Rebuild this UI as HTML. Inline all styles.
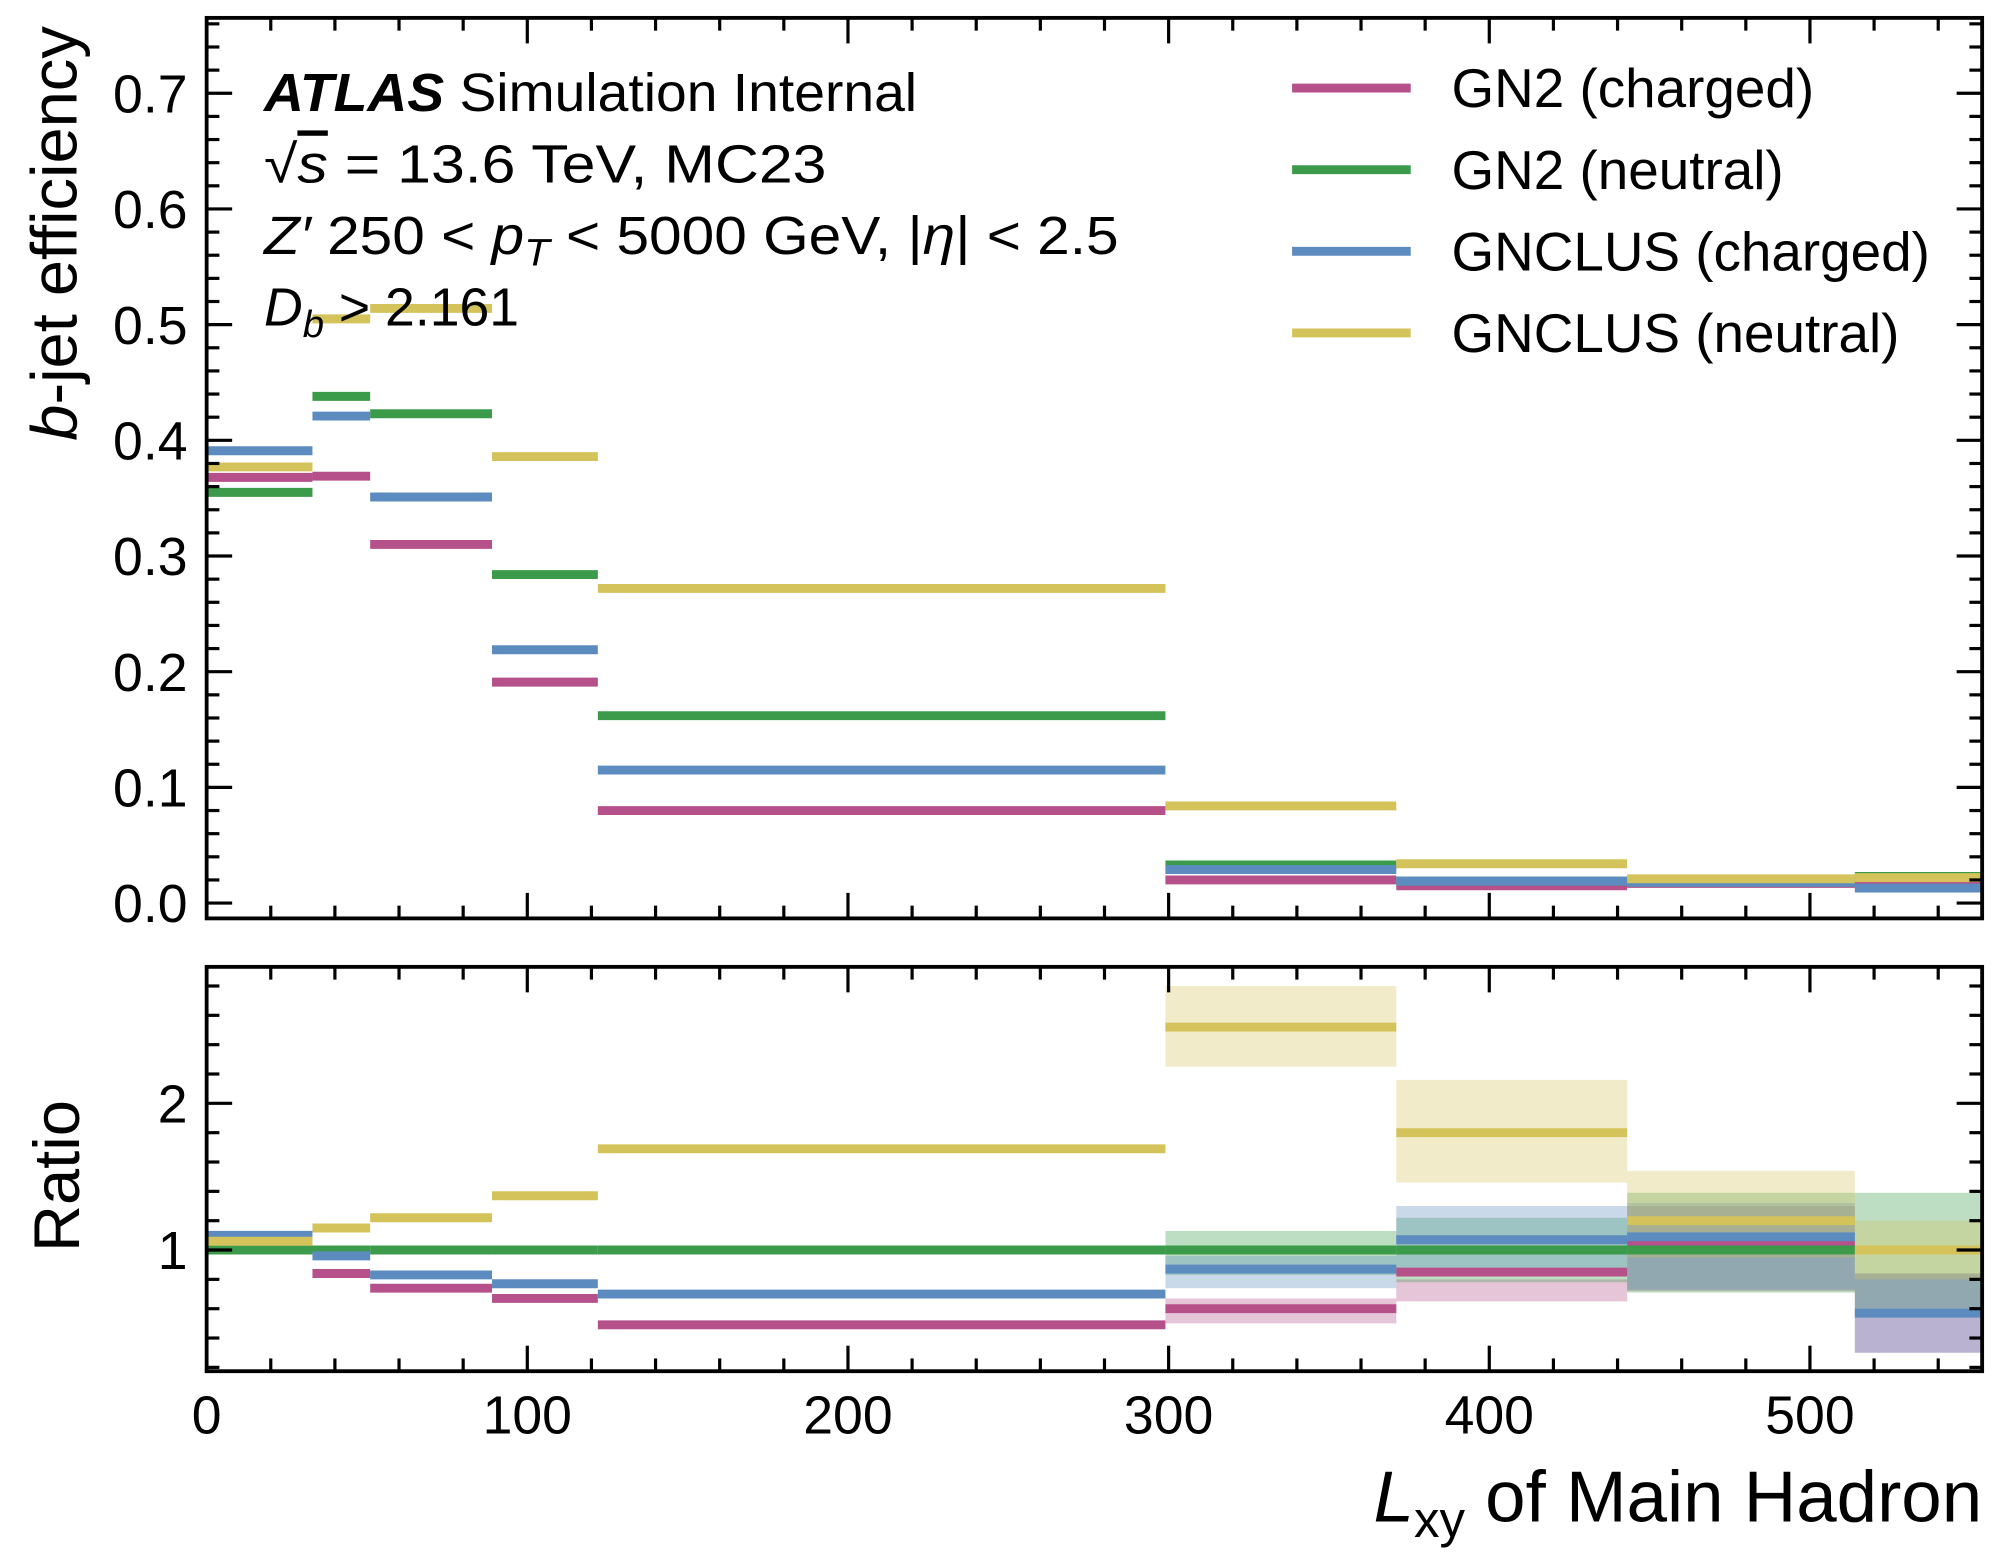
<!DOCTYPE html>
<html><head><meta charset="utf-8"><style>
html,body{margin:0;padding:0;background:#fff;}
svg{display:block;font-family:"Liberation Sans",Arial,sans-serif;}
</style></head><body>
<svg id="chart" width="2000" height="1560" viewBox="0 0 1568 1223" xmlns="http://www.w3.org/2000/svg">
<rect x="0" y="0" width="1568" height="1223" fill="#fff"/>
<g id="marks"></g>
<g id="axes"></g>
<g font-size="42">
<text x="207" y="87" textLength="512" lengthAdjust="spacingAndGlyphs"><tspan font-weight="bold" font-style="italic">ATLAS</tspan> Simulation Internal</text>
<text x="207" y="143" textLength="441" lengthAdjust="spacingAndGlyphs">√<tspan text-decoration="overline" font-style="italic">s</tspan> = 13.6 TeV, MC23</text>
<text x="207" y="199" textLength="670" lengthAdjust="spacingAndGlyphs"><tspan font-style="italic">Z′</tspan> 250 &lt; <tspan font-style="italic">p</tspan><tspan font-style="italic" font-size="30" dy="9">T</tspan><tspan dy="-9"> &lt; 5000 GeV, |</tspan><tspan font-style="italic">η</tspan>| &lt; 2.5</text>
<text x="207" y="255"><tspan font-style="italic">D</tspan><tspan font-style="italic" font-size="30" dy="9">b</tspan><tspan dy="-9"> &gt; 2.161</tspan></text>
</g>
<g id="legend" font-size="43"></g>
<text transform="translate(60,183) rotate(-90)" text-anchor="middle" font-size="51"><tspan font-style="italic">b</tspan>-jet efficiency</text>
<text transform="translate(62,922) rotate(-90)" text-anchor="middle" font-size="51">Ratio</text>
<text x="1554" y="1193" text-anchor="end" font-size="57"><tspan font-style="italic">L</tspan><tspan font-size="40" dy="12">xy</tspan><tspan dy="-12"> of Main Hadron</tspan></text>
</svg>
<script>
const edges = [0, 33, 51, 89, 122, 299, 371, 443, 514, 553.6];
const seriesNames = ["GN2 (charged)", "GN2 (neutral)", "GNCLUS (charged)", "GNCLUS (neutral)"];
const seriesColors = ["#b5508a", "#3b9b4a", "#5b8bbf", "#d4c35a"];
const effGN2Charged = [0.368, 0.369, 0.310, 0.191, 0.080, 0.020, 0.015, 0.017, 0.016];
const effGN2Neutral = [0.355, 0.438, 0.423, 0.284, 0.162, 0.033, 0.019, 0.018, 0.023];
const effGNCLUSCharged = [0.391, 0.421, 0.351, 0.219, 0.115, 0.029, 0.019, 0.018, 0.013];
const effGNCLUSNeutral = [0.377, 0.505, 0.514, 0.386, 0.272, 0.084, 0.034, 0.021, 0.022];
const ratioGN2Charged = [1.02, 0.84, 0.74, 0.67, 0.49, 0.60, 0.85, 1.04, null];
const ratioGN2Neutral = [1, 1, 1, 1, 1, 1, 1, 1, 1];
const ratioGNCLUSCharged = [1.10, 0.96, 0.83, 0.77, 0.70, 0.87, 1.07, 1.09, 0.57];
const ratioGNCLUSNeutral = [1.06, 1.15, 1.22, 1.37, 1.69, 2.52, 1.80, 1.20, 1.00];
const bandLoGN2Charged = [null, null, null, null, null, 0.50, 0.65, 0.72, 0.30];
const bandHiGN2Charged = [null, null, null, null, null, 0.67, 0.80, 1.30, 0.84];
const bandLoGN2Neutral = [null, null, null, null, null, 0.83, 0.78, 0.71, 0.60];
const bandHiGN2Neutral = [null, null, null, null, null, 1.13, 1.22, 1.39, 1.39];
const bandLoGNCLUSCharged = [null, null, null, null, null, 0.74, 0.83, 0.73, 0.30];
const bandHiGNCLUSCharged = [null, null, null, null, null, 0.96, 1.30, 1.32, 0.84];
const bandLoGNCLUSNeutral = [null, null, null, null, null, 2.25, 1.46, 0.95, 0.80];
const bandHiGNCLUSNeutral = [null, null, null, null, null, 2.80, 2.16, 1.54, 1.20];
const xTicks = [0, 100, 200, 300, 400, 500];
const xTickLabels = ["0", "100", "200", "300", "400", "500"];
const yTicks = [0, 0.1, 0.2, 0.3, 0.4, 0.5, 0.6, 0.7];
const yTickLabels = ["0.0", "0.1", "0.2", "0.3", "0.4", "0.5", "0.6", "0.7"];
const rTicks = [1, 2];
const rTickLabels = ["1", "2"];

const NS = "http://www.w3.org/2000/svg";
const L = 162, R = 1554, MT = 14, MB = 720, RT = 758, RB = 1075;
const xs = v => L + v * 2.514;
const ys = v => 708 - v * 907;
const yr = v => 980 - (v - 1) * 115;
function mk(tag, parent, attrs) {
  const e = document.createElementNS(NS, tag);
  for (const k in attrs) e.setAttribute(k, attrs[k]);
  parent.appendChild(e);
  return e;
}
const marks = document.getElementById("marks");
const axes = document.getElementById("axes");
const effs = [effGN2Charged, effGN2Neutral, effGNCLUSCharged, effGNCLUSNeutral];
const ratios = [ratioGN2Charged, ratioGN2Neutral, ratioGNCLUSCharged, ratioGNCLUSNeutral];
const bLo = [bandLoGN2Charged, bandLoGN2Neutral, bandLoGNCLUSCharged, bandLoGNCLUSNeutral];
const bHi = [bandHiGN2Charged, bandHiGN2Neutral, bandHiGNCLUSCharged, bandHiGNCLUSNeutral];

for (let s = 0; s < 4; s++) {
  for (let i = 0; i < edges.length - 1; i++) {
    if (bLo[s][i] === null) continue;
    const r = mk("rect", marks, {x: xs(edges[i]), y: yr(bHi[s][i]), width: xs(edges[i+1]) - xs(edges[i]), height: yr(bLo[s][i]) - yr(bHi[s][i]), fill: seriesColors[s], "fill-opacity": 0.33});
    
    
  }
}
for (let s = 0; s < 4; s++) {
  for (let i = 0; i < edges.length - 1; i++) {
    const l = mk("line", marks, {x1: xs(edges[i]), x2: xs(edges[i+1]), y1: ys(effs[s][i]), y2: ys(effs[s][i]), stroke: seriesColors[s], "stroke-width": 7});
    
    
    if (ratios[s][i] !== null) {
      const q = mk("line", marks, {x1: xs(edges[i]), x2: xs(edges[i+1]), y1: yr(ratios[s][i]), y2: yr(ratios[s][i]), stroke: seriesColors[s], "stroke-width": 7});
      
      
    }
  }
}
for (const [t, b, nm] of [[MT, MB, "main-frame"], [RT, RB, "ratio-frame"]]) {
  const f = mk("rect", axes, {x: L, y: t, width: R - L, height: b - t, fill: "none", stroke: "#000", "stroke-width": 3});
  
  
  for (let v = 0; v <= 553; v += 20) {
    const len = v % 100 === 0 ? 20 : 10;
    mk("line", axes, {x1: xs(v), x2: xs(v), y1: b, y2: b - len, stroke: "#000", "stroke-width": 2.5});
    mk("line", axes, {x1: xs(v), x2: xs(v), y1: t, y2: t + len, stroke: "#000", "stroke-width": 2.5});
  }
}
for (let k = 0; k <= 76; k += 2) {
  const v = k / 100, len = k % 10 === 0 ? 20 : 10;
  if (ys(v) < MT) continue;
  mk("line", axes, {x1: L, x2: L + len, y1: ys(v), y2: ys(v), stroke: "#000", "stroke-width": 2.5});
  mk("line", axes, {x1: R, x2: R - len, y1: ys(v), y2: ys(v), stroke: "#000", "stroke-width": 2.5});
}
for (let k = 2; k <= 28; k += 2) {
  const v = k / 10, len = k % 10 === 0 ? 20 : 10;
  mk("line", axes, {x1: L, x2: L + len, y1: yr(v), y2: yr(v), stroke: "#000", "stroke-width": 2.5});
  mk("line", axes, {x1: R, x2: R - len, y1: yr(v), y2: yr(v), stroke: "#000", "stroke-width": 2.5});
}
xTicks.forEach((v, i) => {
  const t = mk("text", axes, {x: xs(v), y: 1124, "text-anchor": "middle", "font-size": 42});
  t.textContent = xTickLabels[i];
  
  
});
yTicks.forEach((v, i) => {
  const t = mk("text", axes, {x: 147, y: ys(v) + 15, "text-anchor": "end", "font-size": 42});
  t.textContent = yTickLabels[i];
  
  
});
rTicks.forEach((v, i) => {
  const t = mk("text", axes, {x: 147, y: yr(v) + 15, "text-anchor": "end", "font-size": 42});
  t.textContent = rTickLabels[i];
  
  
});
const leg = document.getElementById("legend");
seriesNames.forEach((n, i) => {
  const y = 69 + i * 64;
  const g = mk("g", leg, {});
  
  
  mk("line", g, {x1: 1013, x2: 1106, y1: y, y2: y, stroke: seriesColors[i], "stroke-width": 7});
  const t = mk("text", g, {x: 1138, y: y + 15});
  t.textContent = n;
});
</script>
</body></html>
